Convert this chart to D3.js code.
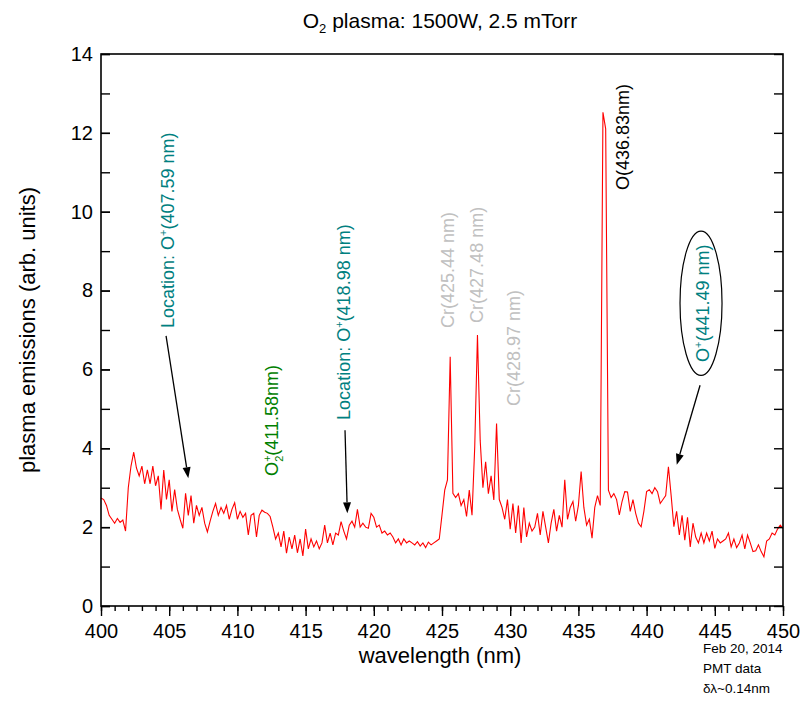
<!DOCTYPE html>
<html><head><meta charset="utf-8">
<script src="https://cdn.jsdelivr.net/npm/d3@7"></script>
<style>
body{margin:0;background:#fff;}
svg{display:block;font-family:"Liberation Sans",Arial,sans-serif;}
</style>
</head><body>
<svg id="chart" width="801" height="706"></svg>
<script>
// ---- data (wavelength grid: 400 nm to 450 nm, 0.2 nm spacing) ----
const wavelengthStart = 400;
const wavelengthStep = 0.2;
const emission = [
  2.74, 2.70, 2.55, 2.30, 2.20,   // 400
  2.10, 2.22, 2.12, 2.18, 1.90,   // 401
  3.00, 3.55, 3.90, 3.50, 3.30,   // 402
  3.55, 3.10, 3.45, 3.10, 3.55,   // 403
  3.05, 3.30, 2.45, 3.45, 2.70,   // 404
  3.20, 2.40, 2.95, 2.45, 2.20,   // 405
  1.97, 2.86, 2.30, 2.80, 2.10,   // 406
  2.55, 2.30, 2.50, 2.10, 1.88,   // 407
  2.15, 2.40, 2.60, 2.30, 2.50,   // 408
  2.35, 2.55, 2.20, 2.45, 2.62,   // 409
  2.20, 2.40, 2.25, 2.35, 1.80,   // 410
  2.30, 2.35, 1.75, 2.30, 2.43,   // 411
  2.38, 2.35, 2.27, 2.00, 1.70,   // 412
  1.85, 1.50, 1.90, 1.34, 1.75,   // 413
  1.45, 1.80, 1.35, 1.70, 1.27,   // 414
  1.95, 1.45, 1.70, 1.50, 1.65,   // 415
  1.45, 1.60, 2.05, 1.60, 1.85,   // 416
  1.55, 1.85, 1.80, 2.14, 1.90,   // 417
  1.70, 2.05, 2.15, 2.00, 2.45,   // 418
  2.00, 2.10, 2.00, 1.97, 2.35,   // 419
  2.25, 2.00, 2.05, 1.85, 1.90,   // 420
  1.80, 1.85, 1.75, 1.60, 1.70,   // 421
  1.55, 1.70, 1.60, 1.65, 1.60,   // 422
  1.55, 1.63, 1.52, 1.60, 1.48,   // 423
  1.62, 1.55, 1.60, 1.65, 1.70,   // 424
  2.31, 2.94, 3.20, 6.32, 2.86,   // 425
  2.75, 2.85, 2.55, 2.70, 2.27,   // 426
  2.94, 2.30, 4.04, 6.87, 4.20,   // 427
  3.00, 3.66, 2.85, 3.30, 2.69,   // 428
  4.63, 2.70, 2.50, 2.20, 2.70,   // 429
  1.95, 2.60, 1.85, 2.55, 1.60,   // 430
  2.50, 1.75, 2.10, 1.90, 2.00,   // 431
  2.35, 1.80, 2.40, 2.00, 1.60,   // 432
  2.10, 2.45, 1.90, 2.30, 2.00,   // 433
  3.20, 2.20, 2.50, 2.65, 2.15,   // 434
  2.55, 3.41, 2.50, 2.05, 2.20,   // 435
  1.72, 2.50, 2.80, 2.55, 12.52,  // 436
  12.10, 2.94, 2.75, 2.85, 2.70,  // 437
  2.31, 2.65, 2.90, 2.89, 2.40,   // 438
  2.70, 2.35, 2.10, 2.01, 2.40,   // 439
  2.90, 2.95, 2.85, 3.00, 2.90,   // 440
  2.60, 2.70, 2.80, 3.53, 2.80,   // 441
  2.01, 2.40, 1.80, 2.30, 1.67,   // 442
  2.25, 1.50, 2.10, 1.75, 1.60,   // 443
  1.85, 1.60, 1.85, 1.65, 1.90,   // 444
  1.46, 1.70, 1.60, 1.65, 1.70,   // 445
  1.85, 1.50, 1.70, 1.48, 1.60,   // 446
  1.80, 1.45, 1.80, 1.60, 1.38,   // 447
  1.40, 1.55, 1.38, 1.25, 1.65,   // 448
  1.70, 1.85, 1.80, 1.95, 2.05,   // 449
  1.97                            // 450
];
const xTickLabels = [400, 405, 410, 415, 420, 425, 430, 435, 440, 445, 450];
const xMinorTicks = d3.range(400, 451, 1);
const yTickLabels = [0, 2, 4, 6, 8, 10, 12, 14];
const yMinorTicks = d3.range(0, 15, 1);

// annotations in data coordinates (wavelength, emission)
const labels = [
  {x: 405.35, y: 7.05, color: "#008080", parts: [{t: "Location: O"}, {t: "+", sup: true}, {t: "(407.59 nm)"}]},
  {x: 412.98, y: 3.30, color: "#008000", parts: [{t: "O"}, {t: "+", sup: true}, {t: "2", sub: true}, {t: "(411.58nm)"}]},
  {x: 418.29, y: 4.72, color: "#008080", parts: [{t: "Location: O"}, {t: "+", sup: true}, {t: "(418.98 nm)"}]},
  {x: 425.88, y: 7.05, color: "#c0c0c0", parts: [{t: "Cr(425.44 nm)"}]},
  {x: 428.00, y: 7.18, color: "#c0c0c0", parts: [{t: "Cr(427.48 nm)"}]},
  {x: 430.72, y: 5.07, color: "#c0c0c0", parts: [{t: "Cr(428.97 nm)"}]},
  {x: 438.71, y: 10.55, color: "#000000", parts: [{t: "O(436.83nm)"}]},
  {x: 444.54, y: 6.19, color: "#008080", parts: [{t: "O"}, {t: "+", sup: true}, {t: "(441.49 nm)"}]}
];
const arrows = [
  {x1: 404.77, y1: 6.85, x2: 406.40, y2: 3.24},
  {x1: 417.89, y1: 4.46, x2: 418.06, y2: 2.35},
  {x1: 443.92, y1: 5.60, x2: 442.21, y2: 3.58}
];
const ellipses = [{cx: 443.99, cy: 7.68, rxNm: 1.54, ryUnits: 1.83}];
const noteLines = ["Feb 20, 2014", "PMT data", "\u03b4\u03bb~0.14nm"];

// ---- drawing ----
const svg = d3.select("#chart");
const W = 801, H = 706;
const m = {left: 101, right: 783, top: 54, bottom: 606};
const x = d3.scaleLinear().domain([400, 450]).range([m.left, m.right]);
const y = d3.scaleLinear().domain([0, 14]).range([m.bottom, m.top]);

svg.append("rect").attr("width", W).attr("height", H).attr("fill", "#fff");

// data line
const pts = emission.map((v, i) => [wavelengthStart + i * wavelengthStep, v]);
svg.append("path")
  .datum(pts)
  .attr("fill", "none")
  .attr("stroke", "#ff0000")
  .attr("stroke-width", 1.1)
  .attr("stroke-linejoin", "miter")
  .attr("d", d3.line().x(d => x(d[0])).y(d => y(d[1])));

// axes
const tickFont = "20px";
const gx = svg.append("g").attr("transform", `translate(0,${m.bottom})`);
gx.call(d3.axisBottom(x).tickValues(xMinorTicks).tickSize(5).tickFormat(""));
gx.call(g => g.select(".domain").remove());
const gx2 = svg.append("g").attr("transform", `translate(0,${m.bottom})`);
gx2.call(d3.axisBottom(x).tickValues(xTickLabels).tickSize(10).tickPadding(8).tickFormat(d3.format("d")));
gx2.call(g => g.select(".domain").remove());
gx2.selectAll("text").attr("font-size", tickFont).attr("fill", "#000").attr("font-family", "Liberation Sans, Arial, sans-serif");

const gy = svg.append("g").attr("transform", `translate(${m.left},0)`);
gy.call(d3.axisLeft(y).tickValues(yMinorTicks).tickSize(-9).tickFormat(""));
gy.call(g => g.select(".domain").remove());
const gy2 = svg.append("g").attr("transform", `translate(${m.left},0)`);
gy2.call(d3.axisLeft(y).tickValues(yTickLabels).tickSize(-9).tickPadding(8).tickFormat(d3.format("d")));
gy2.call(g => g.select(".domain").remove());
gy2.selectAll("text").attr("font-size", tickFont).attr("fill", "#000").attr("font-family", "Liberation Sans, Arial, sans-serif");

const gr = svg.append("g").attr("transform", `translate(${m.right},0)`);
gr.call(d3.axisRight(y).tickValues(yMinorTicks).tickSize(-9).tickFormat(""));
gr.call(g => g.select(".domain").remove());

svg.selectAll(".tick line").attr("stroke", "#000").attr("stroke-width", 1.4);

// frame
svg.append("rect")
  .attr("x", m.left).attr("y", m.top)
  .attr("width", m.right - m.left).attr("height", m.bottom - m.top)
  .attr("fill", "none").attr("stroke", "#000").attr("stroke-width", 1.6);

// title
const title = svg.append("text").attr("x", 440).attr("y", 28)
  .attr("text-anchor", "middle").attr("font-size", "21px").attr("fill", "#000");
title.append("tspan").text("O");
title.append("tspan").attr("font-size", "13px").attr("dy", 5).text("2");
title.append("tspan").attr("dy", -5).text(" plasma: 1500W, 2.5 mTorr");

// axis titles
svg.append("text").attr("x", 440).attr("y", 663).attr("text-anchor", "middle")
  .attr("font-size", "22px").attr("fill", "#000").text("wavelength (nm)");
svg.append("text").attr("transform", "translate(35,330) rotate(-90)").attr("text-anchor", "middle")
  .attr("font-size", "22px").attr("fill", "#000").text("plasma emissions (arb. units)");

// note
noteLines.forEach((t, i) => {
  svg.append("text").attr("x", 703).attr("y", 653 + i * 20)
    .attr("font-size", "13.5px").attr("fill", "#000").text(t);
});

// annotation labels (rotated)
labels.forEach(l => {
  const t = svg.append("text")
    .attr("transform", `translate(${x(l.x)},${y(l.y)}) rotate(-90)`)
    .attr("font-size", "18px").attr("fill", l.color);
  let shift = 0;
  l.parts.forEach(p => {
    const s = t.append("tspan").text(p.t);
    if (p.sup) {
      s.attr("font-size", "11px").attr("dy", -7 - shift); shift = -7;
    } else if (p.sub) {
      s.attr("font-size", "11px").attr("dx", -6.4).attr("dy", 5 - shift); shift = 5;
    } else {
      if (shift !== 0) s.attr("dy", -shift);
      shift = 0;
    }
  });
});

// ellipse
ellipses.forEach(e => {
  svg.append("ellipse")
    .attr("cx", x(e.cx)).attr("cy", y(e.cy))
    .attr("rx", x(e.cx + e.rxNm) - x(e.cx))
    .attr("ry", y(e.cy - e.ryUnits) - y(e.cy))
    .attr("fill", "none").attr("stroke", "#000").attr("stroke-width", 1.2);
});

// arrows
arrows.forEach(a => {
  const X1 = x(a.x1), Y1 = y(a.y1), X2 = x(a.x2), Y2 = y(a.y2);
  const ang = Math.atan2(Y2 - Y1, X2 - X1);
  const L = 11, Wd = 4;
  const bx = X2 - L * Math.cos(ang), by = Y2 - L * Math.sin(ang);
  svg.append("line").attr("x1", X1).attr("y1", Y1).attr("x2", bx).attr("y2", by)
    .attr("stroke", "#000").attr("stroke-width", 1.3);
  const p1 = [bx + Wd * Math.sin(ang), by - Wd * Math.cos(ang)];
  const p2 = [bx - Wd * Math.sin(ang), by + Wd * Math.cos(ang)];
  svg.append("path").attr("d", `M${X2},${Y2}L${p1[0]},${p1[1]}L${p2[0]},${p2[1]}Z`).attr("fill", "#000");
});
</script>
</body></html>
